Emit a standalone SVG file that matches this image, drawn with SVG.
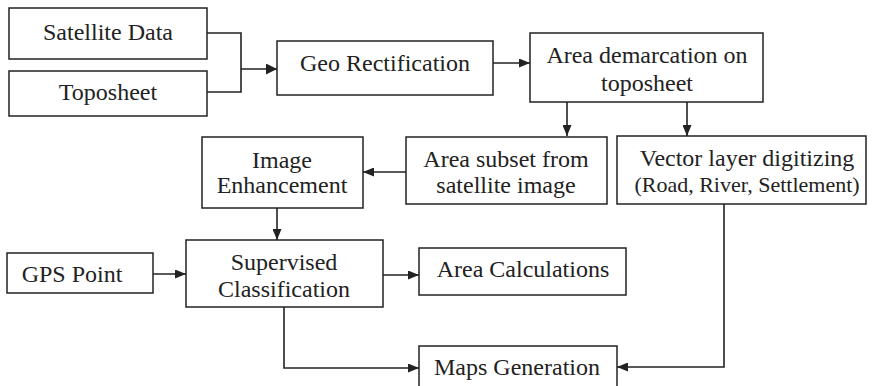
<svg xmlns="http://www.w3.org/2000/svg" width="873" height="386" viewBox="0 0 873 386">
<style>
.box{fill:#fff;stroke:#222;stroke-width:1.5}
.t{font-family:"Liberation Serif","Times New Roman",serif;font-size:24px;fill:#222;text-anchor:middle}
.s{font-size:22px}
.c{fill:none;stroke:#222;stroke-width:1.6}
</style>
<defs>
<marker id="a" viewBox="0 0 11 9" refX="11" refY="4.5" markerWidth="11" markerHeight="9" markerUnits="userSpaceOnUse" orient="auto"><path d="M0,0L11,4.5L0,9Z" fill="#222"/></marker>
<marker id="b" viewBox="0 0 10 10" refX="10" refY="5" markerWidth="11" markerHeight="11" markerUnits="userSpaceOnUse" orient="auto"><path d="M0,0L10,5L0,10Z" fill="#222"/></marker>
</defs>
<g id="connectors">
<path class="c" d="M207,33H241V92H207"/>
<path class="c" d="M241,69H277" stroke-width="3" marker-end="url(#b)"/>
<path class="c" d="M493,63H530" marker-end="url(#a)"/>
<path class="c" d="M567,102V136" marker-end="url(#a)"/>
<path class="c" d="M687,102V136" marker-end="url(#a)"/>
<path class="c" d="M406,172H363" marker-end="url(#a)"/>
<path class="c" d="M277,208V240" marker-end="url(#a)"/>
<path class="c" d="M153,274H186" marker-end="url(#a)"/>
<path class="c" d="M383,275H419" marker-end="url(#a)"/>
<path class="c" d="M284,307V368H419" marker-end="url(#a)"/>
<path class="c" d="M724,204V367H617" marker-end="url(#a)"/>
</g>
<g id="satellite"><rect class="box" x="9" y="8" width="198" height="51"/><text class="t" x="108" y="40">Satellite Data</text></g>
<g id="toposheet"><rect class="box" x="9" y="71" width="198" height="45"/><text class="t" x="108" y="100">Toposheet</text></g>
<g id="geo"><rect class="box" x="277" y="41" width="216" height="54"/><text class="t" x="385" y="71">Geo Rectification</text></g>
<g id="demarcation"><rect class="box" x="530" y="33" width="233" height="69"/><text class="t" x="647" y="63">Area demarcation on</text><text class="t" x="647" y="91">toposheet</text></g>
<g id="subset"><rect class="box" x="406" y="137" width="201" height="67"/><text class="t" x="506" y="167">Area subset from</text><text class="t" x="506" y="193">satellite image</text></g>
<g id="vector"><rect class="box" x="617" y="136" width="249" height="68"/><text class="t" x="747" y="166">Vector layer digitizing</text><text class="t s" x="747" y="192">(Road, River, Settlement)</text></g>
<g id="enhancement"><rect class="box" x="202" y="137" width="161" height="71"/><text class="t" x="282" y="168">Image</text><text class="t" x="282" y="193">Enhancement</text></g>
<g id="gps"><rect class="box" x="7" y="253" width="146" height="40"/><text class="t" x="72" y="282">GPS Point</text></g>
<g id="supervised"><rect class="box" x="186" y="240" width="197" height="67"/><text class="t" x="284" y="270">Supervised</text><text class="t" x="284" y="297">Classification</text></g>
<g id="area-calc"><rect class="box" x="419" y="248" width="207" height="47"/><text class="t" x="523" y="277">Area Calculations</text></g>
<g id="maps"><rect class="box" x="419" y="346" width="198" height="50"/><text class="t" x="517" y="375">Maps Generation</text></g>
</svg>
